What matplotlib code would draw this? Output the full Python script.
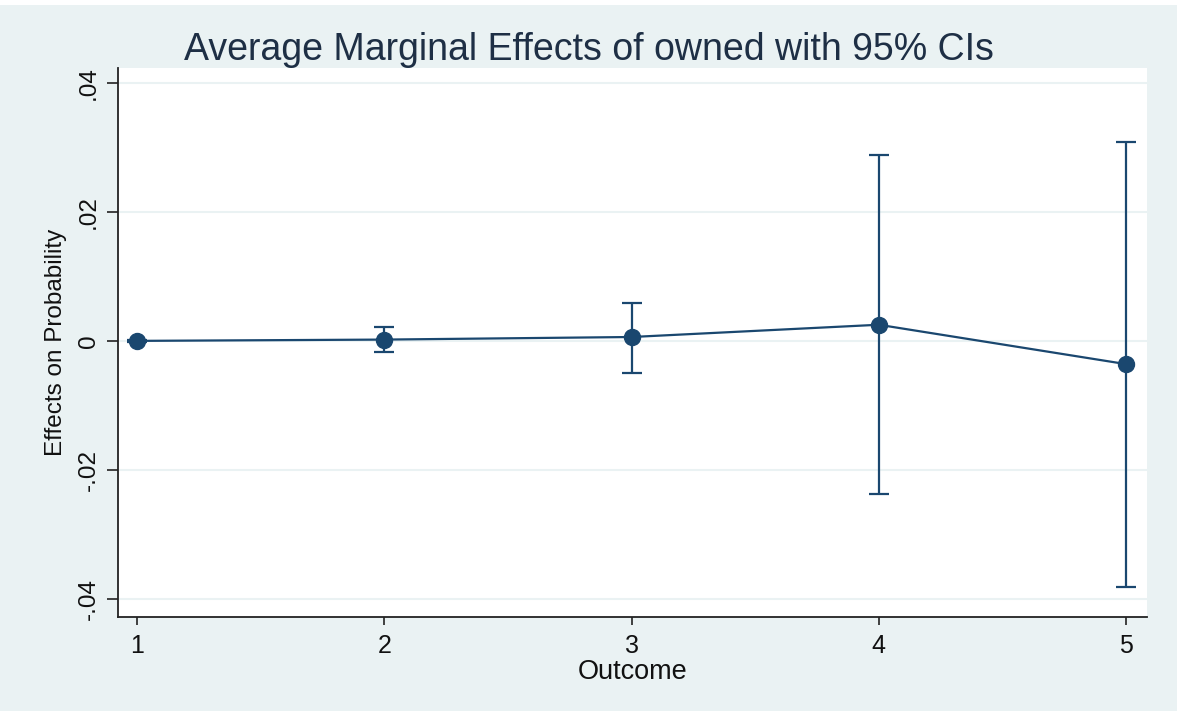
import matplotlib
matplotlib.use("Agg")
import matplotlib.pyplot as plt
from matplotlib.patches import Rectangle

outcomes = [1, 2, 3, 4, 5]
margins = [0.0000, 0.0002, 0.0006, 0.0025, -0.0036]
ci_low = [-0.0002, -0.0018, -0.0050, -0.0238, -0.0381]
ci_high = [0.0002, 0.0022, 0.0059, 0.0288, 0.0309]
yticks = [-0.04, -0.02, 0.0, 0.02, 0.04]
ytick_labels = ["-.04", "-.02", "0", ".02", ".04"]

navy = "#1a476f"
bg = "#eaf2f3"

plt.rcParams['font.family'] = ['Liberation Sans', 'DejaVu Sans']

fig = plt.figure(figsize=(11.77, 7.11), dpi=100, facecolor=bg)
ax = fig.add_axes([0.1003, 0.1322, 0.8742, 0.7722])
ax.set_facecolor("white")

lo_err = [m - l for m, l in zip(margins, ci_low)]
hi_err = [h - m for m, h in zip(margins, ci_high)]
ax.errorbar(outcomes, margins, yerr=[lo_err, hi_err], fmt='none',
            ecolor=navy, elinewidth=1.6, capsize=7.5, capthick=1.6, zorder=3)
ax.plot(outcomes, margins, color=navy, lw=1.6, marker='o', markersize=11.5,
        markerfacecolor=navy, markeredgecolor=navy, zorder=4)

ax.set_xlim(0.923, 5.085)
ax.set_ylim(-0.0428, 0.0423)
ax.set_xticks(outcomes)
ax.set_xticklabels([str(o) for o in outcomes])
ax.set_yticks(yticks)
ax.set_yticklabels(ytick_labels, rotation=90, va='center')

ax.grid(axis='y', color=bg, lw=1.5, zorder=0)
ax.set_axisbelow(True)

for s in ['top', 'right']:
    ax.spines[s].set_visible(False)
for s in ['left', 'bottom']:
    ax.spines[s].set_color('#222222')
    ax.spines[s].set_linewidth(1.3)

ax.tick_params(axis='x', direction='out', length=6, width=1.2,
               color='#222222', labelsize=18, labelcolor='#111111', pad=6)
ax.tick_params(axis='y', direction='out', length=8, width=1.2,
               color='#222222', labelsize=17.5, labelcolor='#111111', pad=5)

ax.set_xlabel("Outcome", fontsize=19.5, color='#111111', labelpad=1)
ax.set_ylabel("Effects on Probability", fontsize=17.5, color='#111111', labelpad=8)
fig.text(0.5, 1 - 60 / 711, "Average Marginal Effects of owned with 95% CIs",
         fontsize=27, color='#1e2f45', ha='center', va='baseline')

fig.patches.append(Rectangle((0, 1 - 5 / 711), 1, 5 / 711, transform=fig.transFigure,
                             facecolor='white', edgecolor='none', zorder=10))

fig.savefig("out.png", dpi=100, facecolor=bg)
